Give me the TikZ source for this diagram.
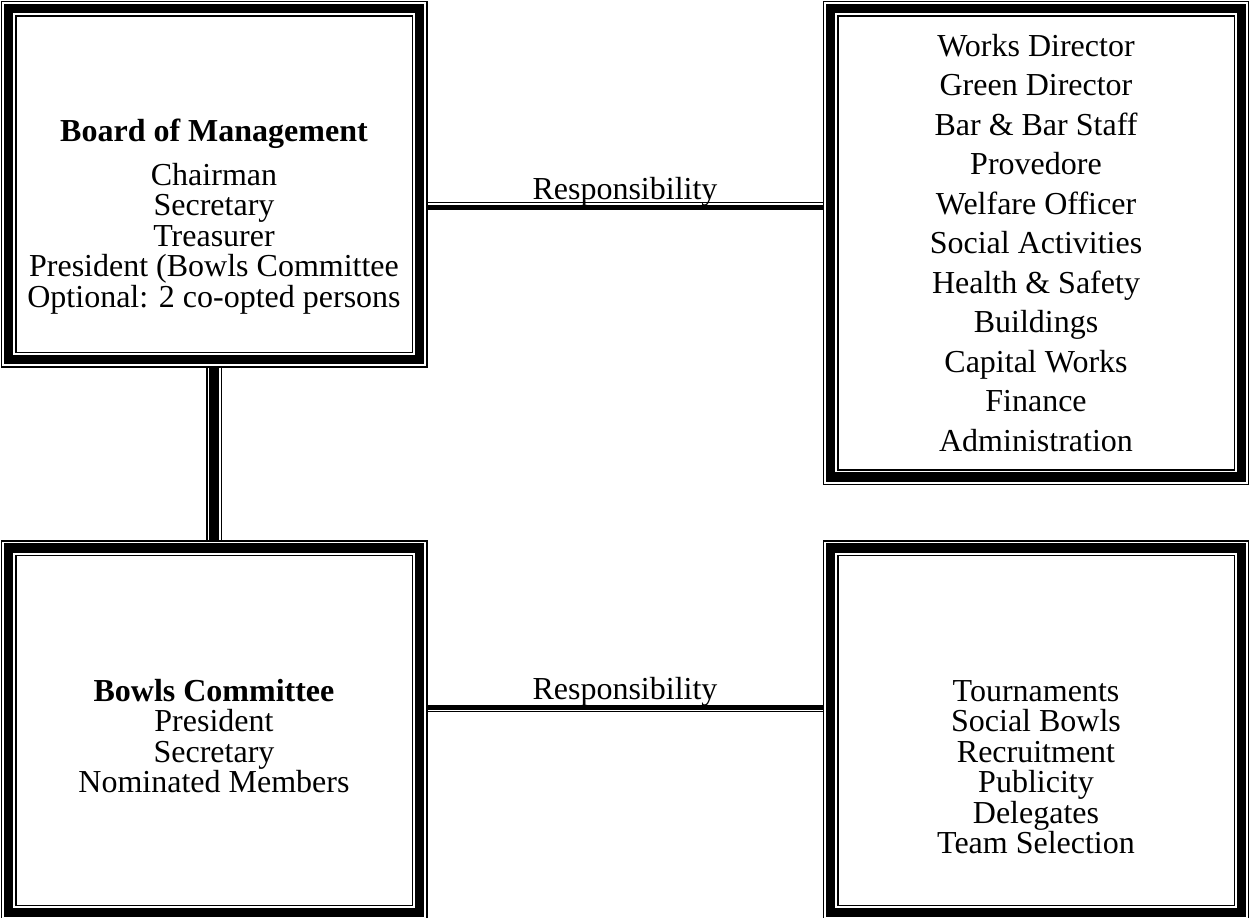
\documentclass[tikz,border=0pt]{standalone}
\usepackage{fontspec}
\setmainfont{Liberation Serif}
\usetikzlibrary{positioning}

\begin{document}
\begin{tikzpicture}[x=0.5pt, y=-0.5pt, every node/.style={align=center, font=\fontsize{16}{15.25}\selectfont},
  panel/.style={draw=black, line width=4.75pt, inner sep=0pt, outer sep=0pt,
    preaction={draw=black, line width=8pt},
    preaction={draw=white, line width=6.5pt}},
  trunk/.style={draw=black, line width=5pt, shorten <=4pt, shorten >=4pt,
    preaction={draw=black, line width=8pt, shorten <=4pt, shorten >=4pt},
    preaction={draw=white, line width=6.5pt, shorten <=4pt, shorten >=4pt}},
  wirethin/.style={draw=black, line width=0.8pt, shorten <=4pt, shorten >=3.75pt},
  wirethick/.style={draw=black, line width=2.5pt, shorten <=4pt, shorten >=3.75pt}]
\useasboundingbox (0,0) rectangle (1249,917);
% Panels
\node[panel, minimum width=205.5pt, minimum height=175.5pt] (board) at (214,184) {};
\node[panel, minimum width=205.5pt, minimum height=234.25pt] (duties) at (1036,242.75) {};
\node[panel, minimum width=205.5pt, minimum height=182.25pt] (bowls) at (214,730.25) {};
\node[panel, minimum width=205.5pt, minimum height=182.25pt] (games) at (1036,730.25) {};
% Texts (anchored at the baseline of their last line)
\node[anchor=base] (boardtxt) at (214,307) {\textbf{Board of Management}\\[6.75pt]Chairman\\Secretary\\Treasurer\\President (Bowls Committee\\Optional: 2 co-opted persons};
\node[anchor=base, font=\fontsize{16}{19.75}\selectfont] (dutiestxt) at (1036,451) {Works Director\\Green Director\\Bar \& Bar Staff\\Provedore\\Welfare Officer\\Social Activities\\Health \& Safety\\Buildings\\Capital Works\\Finance\\Administration};
\node[anchor=base] (bowlstxt) at (214,792.5) {\textbf{Bowls Committee}\\President\\Secretary\\Nominated Members};
\node[anchor=base] (gamestxt) at (1036,853.5) {Tournaments\\Social Bowls\\Recruitment\\Publicity\\Delegates\\Team Selection};
% Links
\draw[trunk] (board.south) -- (bowls.north);
\coordinate (up1) at ([yshift=-9.25pt]board.east);
\coordinate (up2) at ([yshift=-11.5pt]board.east);
\draw[wirethin] (up1) -- (up1 -| duties.west) node[midway, anchor=base, yshift=1.75pt] (resp1) {Responsibility};
\draw[wirethick] (up2) -- (up2 -| duties.west);
\coordinate (lo1) at ([yshift=11.6pt]bowls.east);
\coordinate (lo2) at ([yshift=9.4pt]bowls.east);
\draw[wirethick] (lo1) -- (lo1 -| games.west) node[midway, anchor=base, yshift=4pt] (resp2) {Responsibility};
\draw[wirethin] (lo2) -- (lo2 -| games.west);
\end{tikzpicture}
\end{document}
